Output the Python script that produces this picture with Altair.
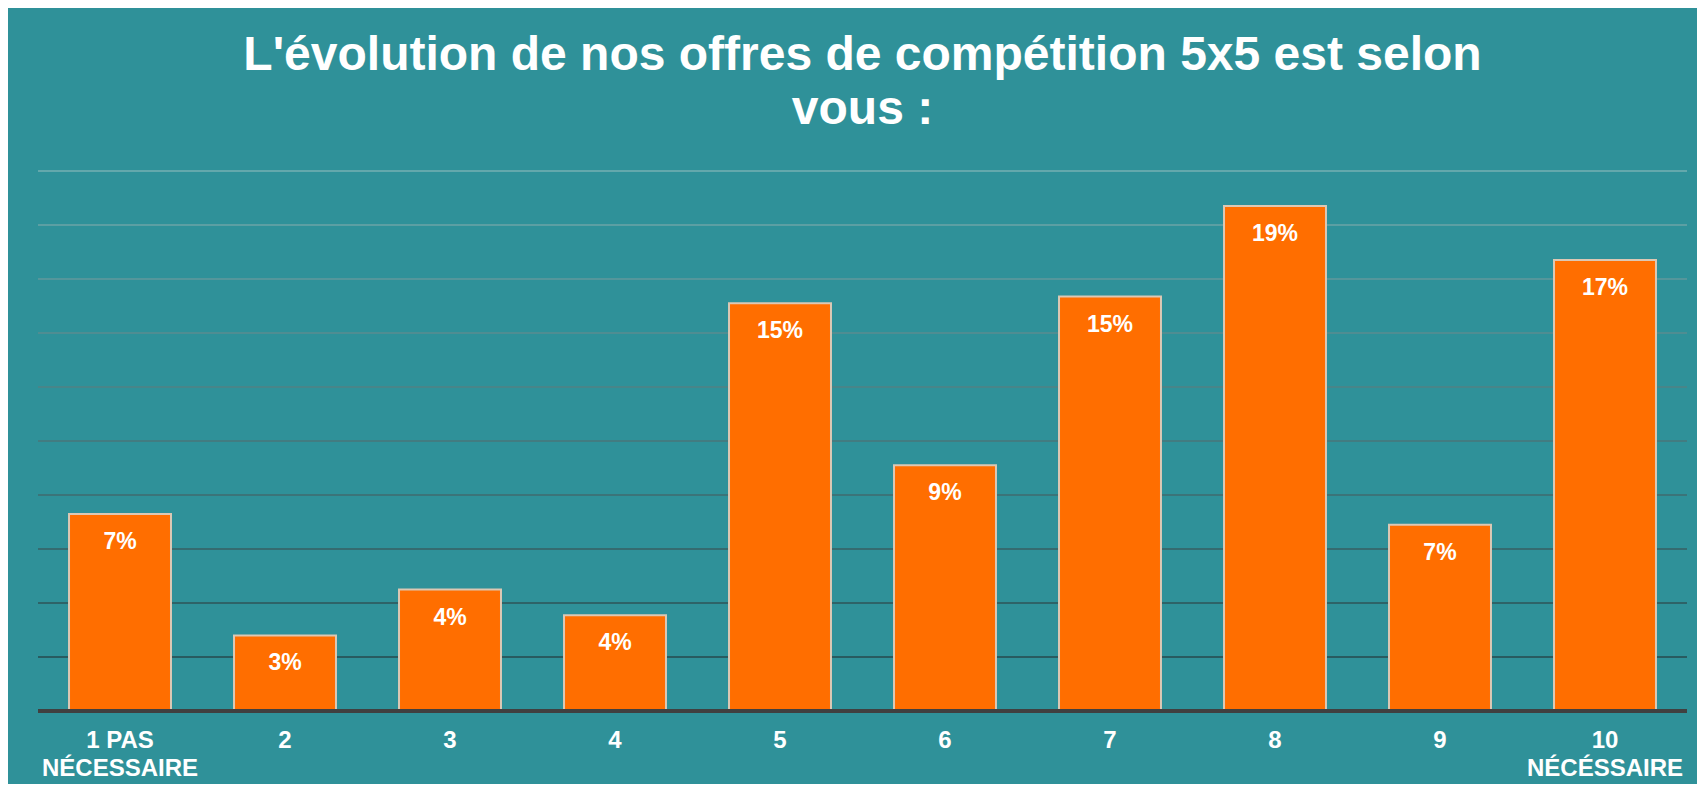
import altair as alt
import pandas as pd

# Data
categories = ["1 PAS|NÉCESSAIRE", "2", "3", "4", "5", "6", "7", "8", "9", "10|NÉCÉSSAIRE"]
values = [7.3, 2.8, 4.5, 3.55, 15.1, 9.1, 15.35, 18.7, 6.9, 16.7]
labels = ["7%", "3%", "4%", "4%", "15%", "9%", "15%", "19%", "7%", "17%"]
grid_values = [2, 4, 6, 8, 10, 12, 14, 16, 18, 20]

df = pd.DataFrame({"cat": categories, "val": values, "lab": labels})
grid_df = pd.DataFrame({"g": grid_values})

FONT = "Liberation Sans"
W, H = 1649, 540

x_enc = alt.X(
    "cat:N",
    sort=None,
    scale=alt.Scale(paddingInner=0.382, paddingOuter=0.188),
    axis=alt.Axis(
        title=None,
        labelAngle=0,
        labelExpr="split(datum.label, '|')",
        labelFont=FONT,
        labelFontSize=24,
        labelFontWeight="bold",
        labelColor="white",
        labelLineHeight=28,
        labelPadding=17,
        ticks=False,
        tickSize=0,
        domain=False,
        grid=False,
    ),
)
y_scale = alt.Scale(domain=[0, 20], nice=False)

grid = alt.Chart(grid_df).mark_rule(strokeWidth=2).encode(
    x=alt.value(0),
    x2=alt.value(W),
    y=alt.Y("g:Q", scale=y_scale, axis=None),
    color=alt.Color(
        "g:Q",
        scale=alt.Scale(domain=[2, 20], range=["#285b60", "#63a8ac"]),
        legend=None,
    ),
)

bars = alt.Chart(df).mark_bar(
    color="#ff6e00", stroke="#dcc8b4", strokeWidth=2
).encode(
    x=x_enc,
    y=alt.Y("val:Q", scale=y_scale, axis=None),
)

text = alt.Chart(df).mark_text(
    font=FONT, fontSize=23, fontWeight="bold", color="white",
    baseline="alphabetic", dy=35,
).encode(
    x=x_enc,
    y=alt.Y("val:Q", scale=y_scale, axis=None),
    text="lab:N",
)

axis_line = alt.Chart(grid_df).mark_rule(color="#404040", strokeWidth=4).encode(
    x=alt.value(0),
    x2=alt.value(W),
    y=alt.value(H),
)

chart = alt.layer(grid, bars, text, axis_line).properties(
    width=W,
    height=H,
    padding={"left": 30, "top": 163, "right": 10, "bottom": 73},
    autosize=alt.AutoSizeParams(type="none"),
    title=alt.Title(
        text=["L'évolution de nos offres de compétition 5x5 est selon", "vous :"],
        font=FONT,
        fontSize=48,
        fontWeight="bold",
        color="white",
        anchor="middle",
        lineHeight=54,
        baseline="bottom",
        offset=-12,
    ),
).configure(
    background="#2f9199",
).configure_axis(
    domain=False, ticks=False, grid=False,
).configure_view(stroke=None)

chart.save("out.html", embed_options={"renderer": "svg", "actions": False})
